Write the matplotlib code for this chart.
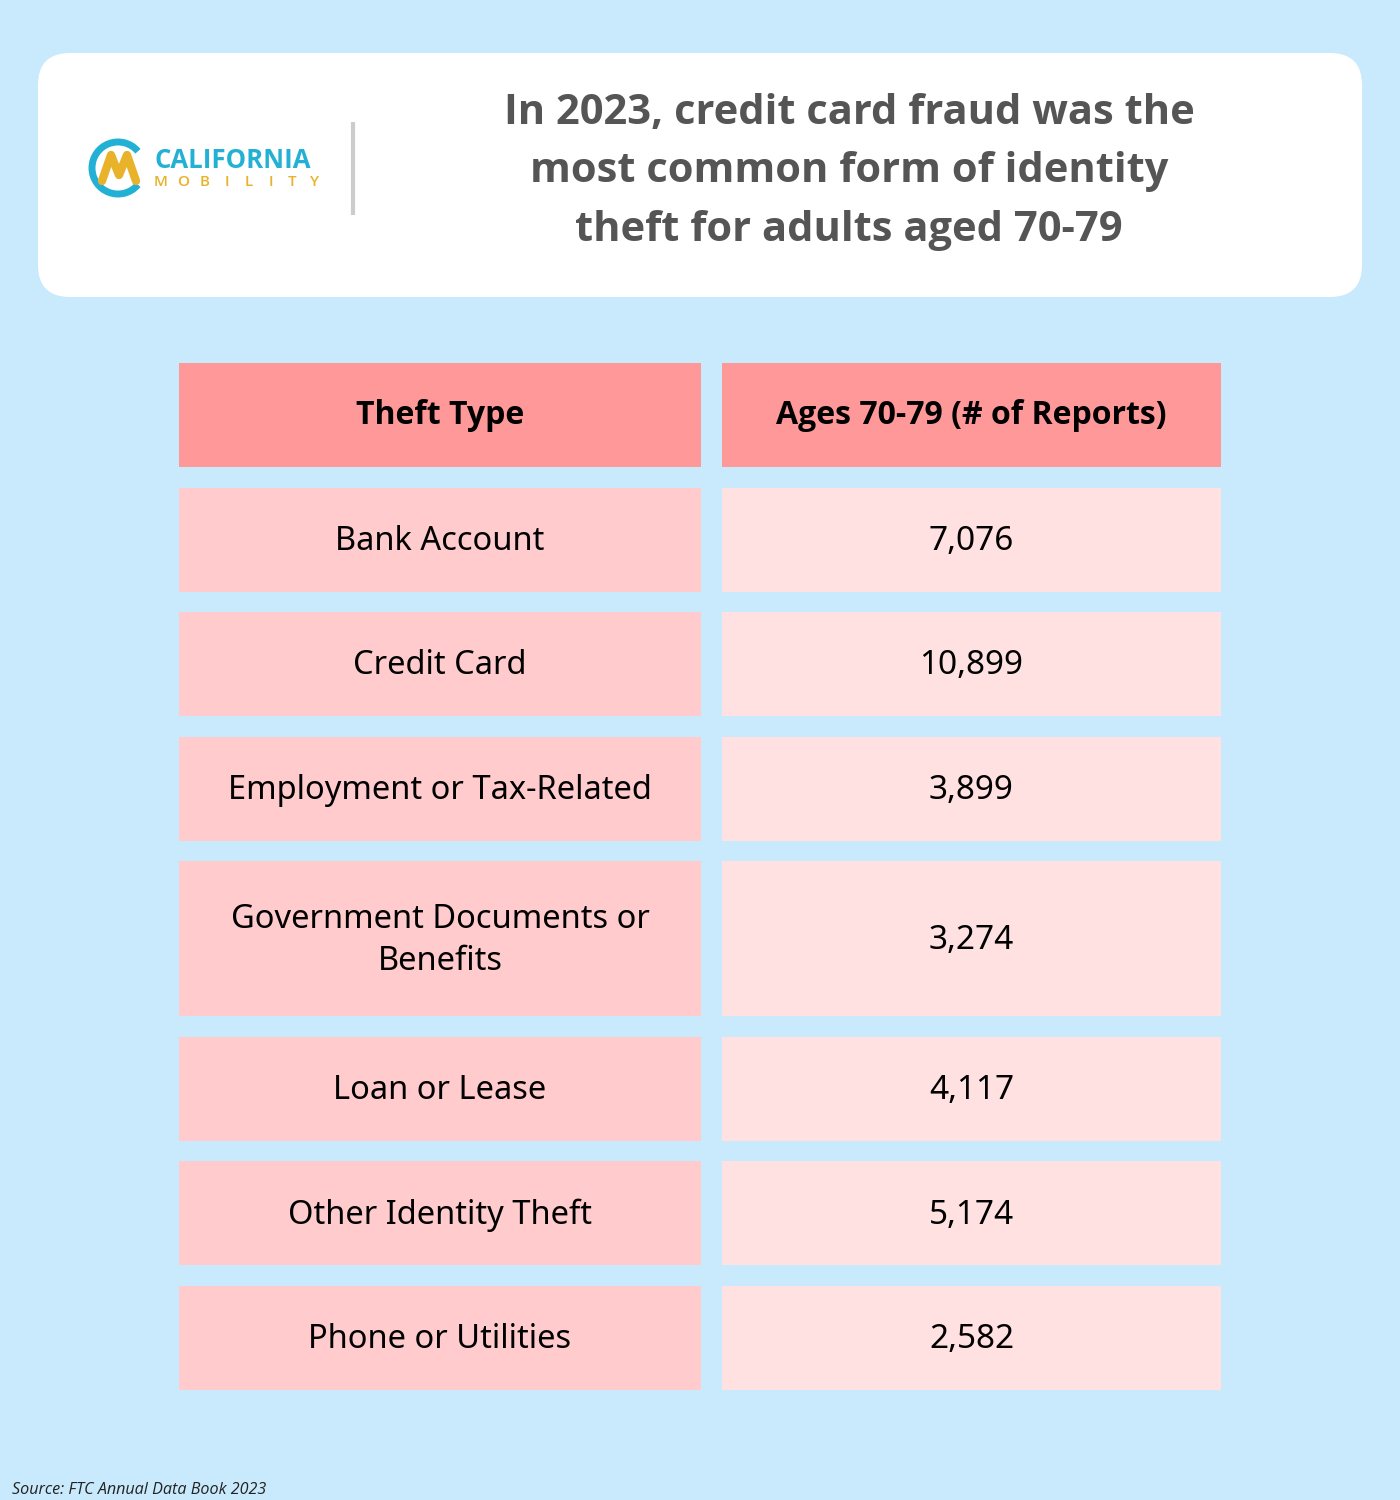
import matplotlib
matplotlib.use("Agg")
import matplotlib.pyplot as plt
from matplotlib.patches import FancyBboxPatch, Rectangle, Arc

# data
title = "In 2023, credit card fraud was the\nmost common form of identity\ntheft for adults aged 70-79"
headers = ["Theft Type", "Ages 70-79 (# of Reports)"]
theft_types = ["Bank Account", "Credit Card", "Employment or Tax-Related",
               "Government Documents or\nBenefits", "Loan or Lease",
               "Other Identity Theft", "Phone or Utilities"]
reports = [7076, 10899, 3899, 3274, 4117, 5174, 2582]
source = "Source: FTC Annual Data Book 2023"

bg = "#C8EAFC"
head_col = "#FF9898"
left_col = "#FFCBCD"
right_col = "#FFE1E2"

fig = plt.figure(figsize=(14, 15), dpi=100)
fig.patch.set_facecolor(bg)
ax = fig.add_axes([0, 0, 1, 1])
ax.set_xlim(0, 1400)
ax.set_ylim(1500, 0)
ax.axis("off")

# header card
ax.add_patch(FancyBboxPatch((38, 53), 1324, 244, boxstyle="round,pad=0,rounding_size=32",
                            fc="white", ec="none"))
ax.plot([353, 353], [122, 215], color="#cccccc", lw=3, solid_capstyle="butt")
ax.text(849, 172, title, ha="center", va="center", fontsize=30, fontweight="bold",
        family="Open Sans", color="#555555", linespacing=1.58)

# logo
ax.add_patch(Arc((118, 168), 52, 52, theta1=40, theta2=320, color="#22B1D4", lw=5))
ax.plot([102, 111, 119, 127, 136], [181, 155, 175, 155, 181], color="#E8B22A", lw=6,
        solid_joinstyle="round", solid_capstyle="round")
ax.text(154, 161, "CALIFORNIA", ha="left", va="center", fontsize=18.5, fontweight="bold",
        family="Open Sans", color="#22B1D4")
for i, ch in enumerate("MOBILITY"):
    ax.text(161 + i * 21.9, 182, ch, ha="center", va="center", fontsize=11,
            fontweight="semibold", family="Open Sans", color="#E8B22A")

# table
x0, x1, x2, x3 = 179, 701, 722, 1221
row_h, line_h, gap = 104, 51, 20.5
y = 363
for j, h in enumerate(headers):
    xa, xb = (x0, x1) if j == 0 else (x2, x3)
    ax.add_patch(Rectangle((xa, y), xb - xa, row_h, fc=head_col, ec="none"))
    ax.text((xa + xb) / 2, y + row_h / 2 + 1, h, ha="center", va="center", fontsize=23,
            fontweight="bold", family="Open Sans", color="black")
y += row_h + gap
for name, val in zip(theft_types, reports):
    h = row_h + line_h * (name.count("\n"))
    ax.add_patch(Rectangle((x0, y), x1 - x0, h, fc=left_col, ec="none"))
    ax.add_patch(Rectangle((x2, y), x3 - x2, h, fc=right_col, ec="none"))
    ax.text((x0 + x1) / 2, y + h / 2 + 2, name, ha="center", va="center", fontsize=23.5,
            family="Noto Sans", color="black", linespacing=1.4)
    ax.text((x2 + x3) / 2, y + h / 2 + 2, f"{val:,}", ha="center", va="center", fontsize=24,
            family="Noto Sans", color="black")
    y += h + gap

ax.text(12, 1490, source, ha="left", va="center", fontsize=11.6, style="italic",
        family="Open Sans", color="#222222")

fig.savefig("out.png", dpi=100, facecolor=bg)
